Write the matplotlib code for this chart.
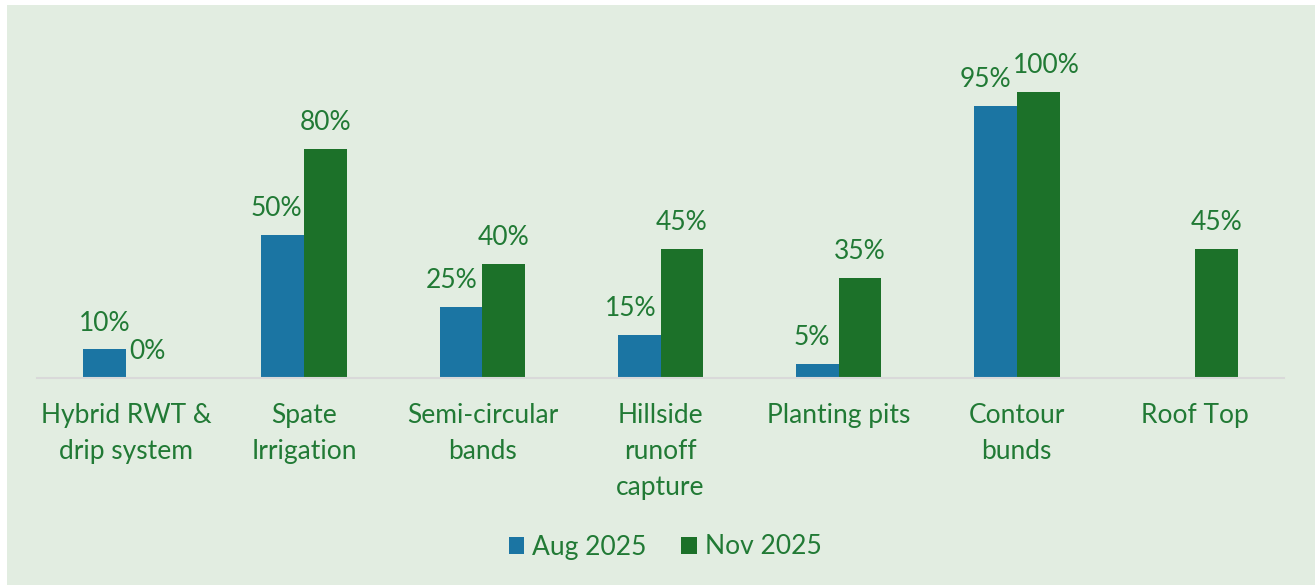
import numpy as np
import matplotlib.pyplot as plt
from matplotlib.patches import Rectangle

categories = ["Hybrid RWT &\ndrip system", "Spate\nIrrigation", "Semi-circular\nbands",
              "Hillside\nrunoff\ncapture", "Planting pits", "Contour\nbunds", "Roof Top"]
aug_2025 = [10, 50, 25, 15, 5, 95, np.nan]
nov_2025 = [0, 80, 40, 45, 35, 100, 45]

bg = "#E2EDE1"
blue = "#1B75A3"
green = "#1C7129"
text_green = "#217A35"

plt.rcParams['font.family'] = ['Lato', 'DejaVu Sans']
fs = 19

fig = plt.figure(figsize=(13.15, 5.85), dpi=100)
fig.patch.set_facecolor("white")
fig.patches.append(Rectangle((7 / 1315, 0), 1 - 7 / 1315, 1 - 5 / 585,
                             transform=fig.transFigure, facecolor=bg,
                             edgecolor="none", zorder=-1))

# axes placed in pixel terms: baseline at y=378, x from 37 to 1284
ax = fig.add_axes([37 / 1315, 1 - 378 / 585, (1284 - 37) / 1315, (378 - 20) / 585])
ax.set_facecolor("none")

x = np.arange(len(categories))
w = 0.24
b1 = ax.bar(x - w / 2, aug_2025, w, color=blue, label="Aug 2025")
b2 = ax.bar(x + w / 2, nov_2025, w, color=green, label="Nov 2025")

# some labels are pushed sideways a little, as in the original
nudge = {(0, 1): -5, (0, 2): -7, (0, 3): -6, (0, 4): -4, (0, 5): -7, (1, 5): 6}
for k, (bars, vals) in enumerate(((b1, aug_2025), (b2, nov_2025))):
    for i, (rect, v) in enumerate(zip(bars, vals)):
        if np.isnan(v):
            continue
        ax.annotate(f"{v:.0f}%", (rect.get_x() + rect.get_width() / 2, v),
                    xytext=(nudge.get((k, i), 0), 10), textcoords="offset points",
                    ha="center", va="bottom", fontsize=fs, color=text_green)

ax.set_xlim(-0.5, len(categories) - 0.5)
ax.set_ylim(0, 125.2)
ax.set_yticks([])
ax.set_xticks(x)
ax.set_xticklabels(categories, fontsize=fs, color=text_green, linespacing=1.55)
ax.tick_params(axis="x", length=0, pad=18)
for s in ("top", "right", "left"):
    ax.spines[s].set_visible(False)
ax.spines["bottom"].set_color("#D9D9D9")
ax.spines["bottom"].set_linewidth(1.5)

leg = fig.legend(loc="center", bbox_to_anchor=(665 / 1315, 1 - 547 / 585), ncol=2,
                 frameon=False, fontsize=fs, handlelength=0.6, handleheight=0.6,
                 columnspacing=1.3, handletextpad=0.3)
for t in leg.get_texts():
    t.set_color(text_green)

fig.savefig("out.png", dpi=100)
